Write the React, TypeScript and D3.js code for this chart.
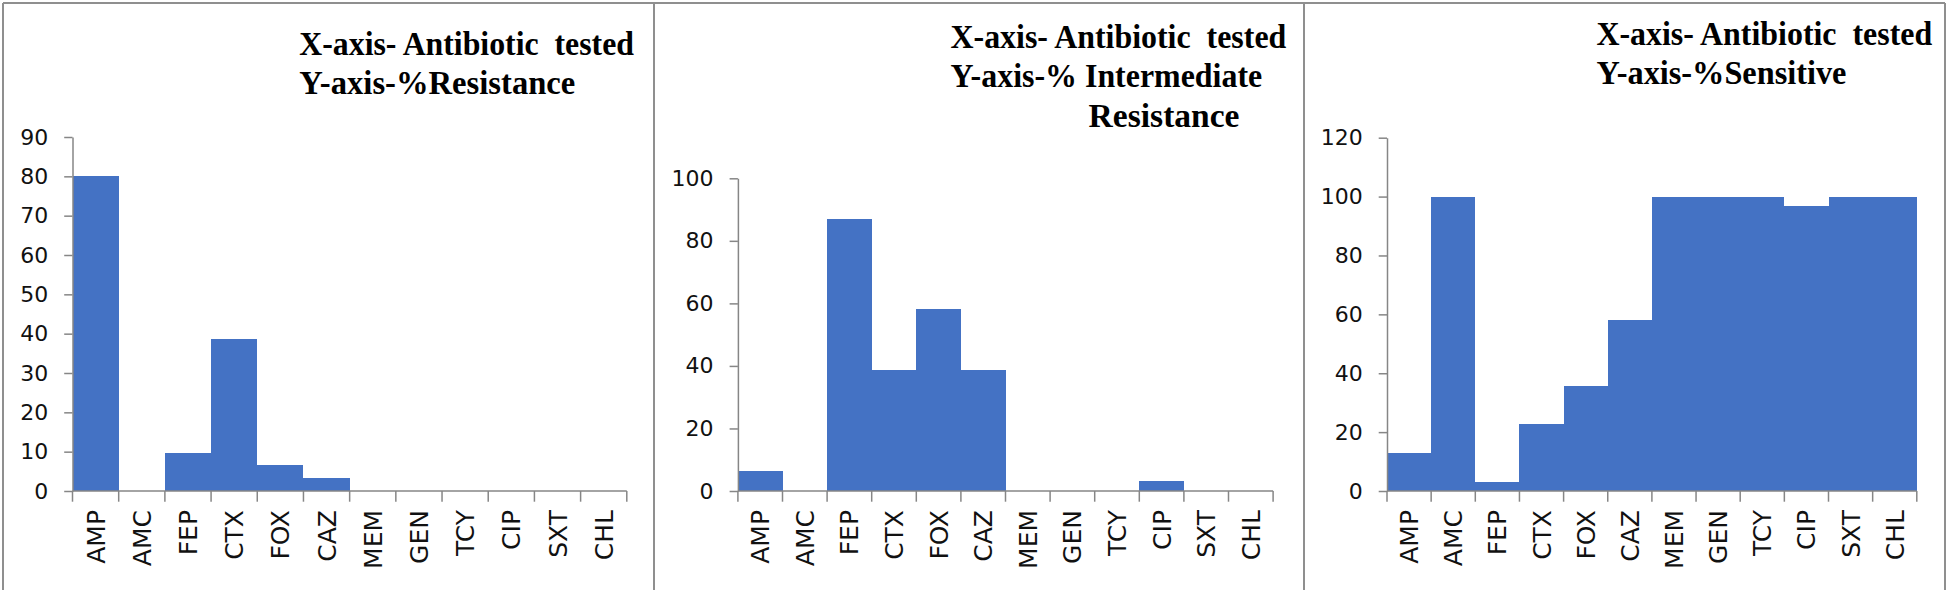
import React, { useRef, useEffect } from "react";
import { select, scaleBand, scaleLinear, axisLeft, range } from "d3";

const antibiotics = ["AMP", "AMC", "FEP", "CTX", "FOX", "CAZ", "MEM", "GEN", "TCY", "CIP", "SXT", "CHL"];

const resistance = [80, 0, 9.7, 38.7, 6.5, 3.2, 0, 0, 0, 0, 0, 0];
const intermediate = [6.5, 0, 87.1, 38.7, 58.1, 38.7, 0, 0, 0, 3.2, 0, 0];
const sensitive = [12.9, 100, 3.2, 22.6, 35.5, 58.1, 100, 100, 100, 96.8, 100, 100];

const resistanceTicks = [0, 10, 20, 30, 40, 50, 60, 70, 80, 90];
const intermediateTicks = [0, 20, 40, 60, 80, 100];
const sensitiveTicks = [0, 20, 40, 60, 80, 100, 120];

const resistanceTitle = ["X-axis- Antibiotic  tested", "Y-axis-%Resistance"];
const intermediateTitle = ["X-axis- Antibiotic  tested", "Y-axis-% Intermediate", "Resistance"];
const sensitiveTitle = ["X-axis- Antibiotic  tested", "Y-axis-%Sensitive"];

const BLUE = "#4472C4";
const AXIS = "#868686";
const FRAME = "#8f8f8f";
const BOTTOM = 491;

const panels = [
  {
    values: resistance,
    ticks: resistanceTicks,
    left: 72.5,
    right: 626.8,
    top: 137,
    title: resistanceTitle,
    // x, baseline, width of each title line
    titlePos: [[299.3, 55, 334.7], [299.3, 94.3, 276]],
  },
  {
    values: intermediate,
    ticks: intermediateTicks,
    left: 737.9,
    right: 1273.1,
    top: 178.3,
    title: intermediateTitle,
    titlePos: [[950.5, 48.3, 335.8], [950.5, 87.3, 311.7], [1088.6, 126.7, 150.9]],
  },
  {
    values: sensitive,
    ticks: sensitiveTicks,
    left: 1387,
    right: 1916.8,
    top: 137.7,
    title: sensitiveTitle,
    titlePos: [[1596.4, 45, 335.8], [1596.4, 84.3, 250]],
  },
];

function App() {
  const svgRef = useRef<SVGSVGElement>(null);

  useEffect(() => {
    const svg = select(svgRef.current);

    panels.forEach((p, i) => {
      const g = svg.select(`.panel-${i}`);
      const x = scaleBand().domain(antibiotics).range([p.left, p.right]).padding(0);
      const y = scaleLinear()
        .domain([0, p.ticks[p.ticks.length - 1]])
        .range([BOTTOM, p.top]);

      g.select(".bars")
        .selectAll("rect")
        .data(p.values)
        .join("rect")
        .attr("x", (d, k) => x(antibiotics[k]))
        .attr("y", (d) => y(d))
        .attr("width", x.bandwidth())
        .attr("height", (d) => BOTTOM - y(d))
        .attr("fill", BLUE)
        .attr("shape-rendering", "crispEdges");

      const yAxis = axisLeft(y).tickValues(p.ticks).tickSize(8.3).tickSizeOuter(0).tickPadding(16);
      const ya = g
        .select(".y-axis")
        .attr("transform", `translate(${p.left},0)`)
        .call(yAxis as any);
      ya.attr("font-family", "DejaVu Sans").attr("font-size", 22);
      ya.selectAll("path, line").attr("stroke", AXIS).attr("stroke-width", 1.5);
      ya.selectAll("text").attr("fill", "#111");

      // category axis: ticks sit on the band edges, labels turned upright in the middle
      const xa = g.select(".x-axis");
      xa.selectAll(".base")
        .data([0])
        .join("line")
        .attr("class", "base")
        .attr("x1", p.left)
        .attr("x2", p.right)
        .attr("y1", BOTTOM)
        .attr("y2", BOTTOM)
        .attr("stroke", AXIS)
        .attr("stroke-width", 1.5);
      xa.selectAll(".tick-mark")
        .data(range(antibiotics.length + 1))
        .join("line")
        .attr("class", "tick-mark")
        .attr("x1", (k) => p.left + k * x.step())
        .attr("x2", (k) => p.left + k * x.step())
        .attr("y1", BOTTOM)
        .attr("y2", BOTTOM + 10.7)
        .attr("stroke", AXIS)
        .attr("stroke-width", 1.5);
      xa.selectAll(".label")
        .data(antibiotics)
        .join("text")
        .attr("class", "label")
        .attr("transform", (d) => `translate(${x(d) + x.bandwidth() / 2},${BOTTOM + 19}) rotate(-90)`)
        .attr("text-anchor", "end")
        .attr("dy", "0.36em")
        .attr("font-family", "DejaVu Sans")
        .attr("font-size", 25)
        .attr("fill", "#111")
        .text((d) => d);

      g.select(".title")
        .selectAll("text")
        .data(p.title)
        .join("text")
        .attr("x", (d, k) => p.titlePos[k][0])
        .attr("y", (d, k) => p.titlePos[k][1])
        .attr("textLength", (d, k) => p.titlePos[k][2])
        .attr("lengthAdjust", "spacingAndGlyphs")
        .attr("font-family", "Liberation Serif")
        .attr("font-weight", "bold")
        .attr("font-size", 34)
        .attr("fill", "#000")
        .style("white-space", "pre")
        .text((d) => d);
    });
  }, []);

  return (
    <svg
      ref={svgRef}
      width={1950}
      height={592}
      style={{ position: "absolute", left: 0, top: 0, background: "#fff" }}
    >
      <rect width={1950} height={592} fill="#fff" />
      {panels.map((p, i) => (
        <g key={i} className={`panel-${i}`}>
          <g className="bars" />
          <g className="y-axis" />
          <g className="x-axis" />
          <g className="title" />
        </g>
      ))}
      {/* frame round the three panels */}
      <g stroke={FRAME} strokeWidth={2}>
        <line x1={3} x2={1945} y1={3} y2={3} />
        <line x1={3} x2={3} y1={3} y2={590} />
        <line x1={654} x2={654} y1={3} y2={590} />
        <line x1={1304} x2={1304} y1={3} y2={590} />
        <line x1={1945} x2={1945} y1={3} y2={590} />
      </g>
    </svg>
  );
}

export default App;
